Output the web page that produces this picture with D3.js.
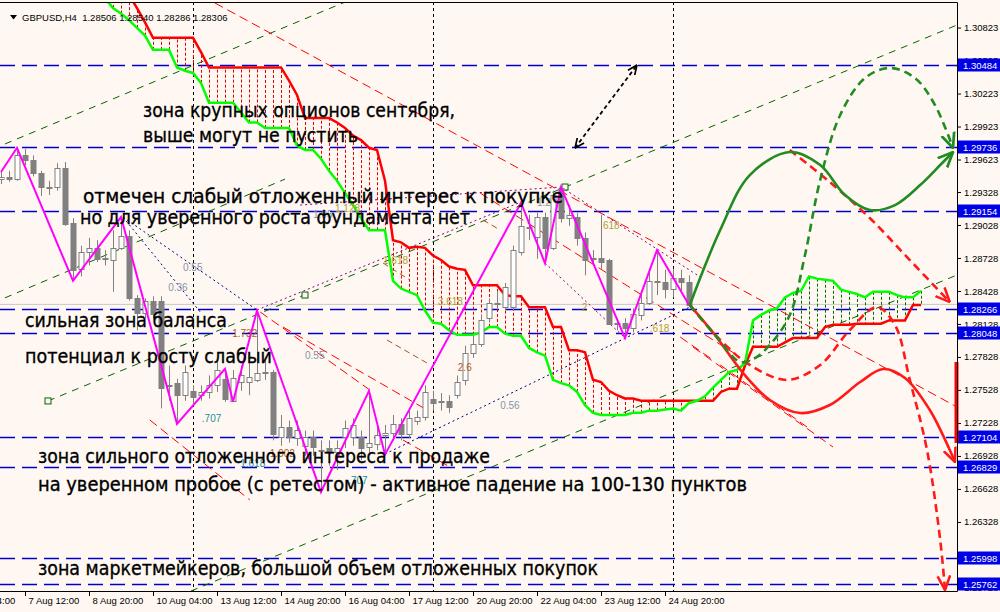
<!DOCTYPE html>
<html><head><meta charset="utf-8">
<script src="https://cdn.jsdelivr.net/npm/d3@7"></script>
<style>
body{margin:0;background:#fff8f2;}
svg{display:block;font-family:"Liberation Sans",Arial,sans-serif;}
</style></head><body>
<svg id="chart" width="1000" height="612"></svg>
<script>
// ---- data (bar index = H4 bar, 0 = first visible) ----
var symbol = "GBPUSD,H4";
var headerValues = [1.28506, 1.28540, 1.28286, 1.28306];
var lastPrice = 1.28306;

var opens  = [1.2945,1.2946,1.2945,1.2966,1.2962,1.2950,1.2937,1.2937,1.2955,1.2905,1.2863,1.2878,1.2882,1.2872,1.2871,1.2882,1.2893,1.2836,1.2823,1.2834,1.2834,1.2757,1.2759,1.2748,1.2752,1.2748,1.2751,1.2757,1.2763,1.2743,1.2760,1.2760,1.2762,1.2769,1.2769,1.2710,1.2719,1.2709,1.2702,1.2710,1.2698,1.2700,1.2696,1.2710,1.2710,1.2710,1.2701,1.2704,1.2712,1.2714,1.2722,1.2713,1.2725,1.2728,1.2745,1.2743,1.2743,1.2748,1.2762,1.2786,1.2795,1.2818,1.2832,1.2828,1.2828,1.2878,1.2901,1.2892,1.2910,1.2882,1.2936,1.2909,1.2910,1.2891,1.2873,1.2873,1.2871,1.2814,1.2814,1.2809,1.2821,1.2832,1.2852,1.2851,1.2845,1.2855,1.2851];
var highs  = [1.2951,1.2952,1.2973,1.2972,1.2966,1.2952,1.2943,1.2959,1.2960,1.2909,1.2884,1.2891,1.2889,1.2880,1.2898,1.2910,1.2898,1.2839,1.2836,1.2838,1.2838,1.2775,1.2763,1.2775,1.2757,1.2757,1.2766,1.2778,1.2772,1.2771,1.2775,1.2780,1.2825,1.2780,1.2771,1.2730,1.2725,1.2725,1.2716,1.2716,1.2707,1.2707,1.2707,1.2725,1.2727,1.2716,1.2752,1.2721,1.2721,1.2730,1.2727,1.2734,1.2734,1.2757,1.2752,1.2750,1.2748,1.2766,1.2793,1.2802,1.2821,1.2836,1.2843,1.2850,1.2884,1.2923,1.2912,1.2914,1.2914,1.2934,1.2937,1.2921,1.2914,1.2896,1.2880,1.2912,1.2872,1.2818,1.2818,1.2827,1.2843,1.2862,1.2880,1.2862,1.2863,1.2862,1.2857];
var lows   = [1.2940,1.2942,1.2943,1.2957,1.2947,1.2929,1.2930,1.2934,1.2902,1.2852,1.2856,1.2866,1.2869,1.2866,1.2842,1.2880,1.2834,1.2807,1.2818,1.2818,1.2736,1.2743,1.2722,1.2743,1.2739,1.2743,1.2745,1.2751,1.2742,1.2742,1.2752,1.2748,1.2760,1.2762,1.2707,1.2702,1.2705,1.2702,1.2693,1.2693,1.2660,1.2684,1.2680,1.2700,1.2702,1.2689,1.2696,1.2698,1.2694,1.2707,1.2707,1.2709,1.2721,1.2725,1.2734,1.2734,1.2732,1.2745,1.2757,1.2782,1.2792,1.2814,1.2827,1.2825,1.2825,1.2875,1.2889,1.2872,1.2868,1.2880,1.2905,1.2902,1.2884,1.2857,1.2866,1.2863,1.2812,1.2807,1.2800,1.2805,1.2816,1.2830,1.2839,1.2836,1.2837,1.2843,1.2829];
var closes = [1.2946,1.2945,1.2966,1.2962,1.2950,1.2937,1.2936,1.2955,1.2904,1.2862,1.2878,1.2882,1.2872,1.2873,1.2882,1.2893,1.2836,1.2823,1.2834,1.2822,1.2755,1.2756,1.2748,1.2769,1.2746,1.2751,1.2757,1.2771,1.2745,1.2764,1.2766,1.2765,1.2768,1.2768,1.2713,1.2719,1.2710,1.2716,1.2710,1.2701,1.2697,1.2696,1.2700,1.2718,1.2721,1.2700,1.2705,1.2712,1.2714,1.2722,1.2713,1.2727,1.2728,1.2751,1.2741,1.2742,1.2737,1.2760,1.2786,1.2795,1.2816,1.2832,1.2831,1.2846,1.2880,1.2902,1.2900,1.2910,1.2882,1.2930,1.2909,1.2912,1.2891,1.2871,1.2872,1.2869,1.2813,1.2813,1.2809,1.2822,1.2832,1.2852,1.2851,1.2845,1.2855,1.2851,1.2830];

// Ichimoku cloud, shifted forward, first value at bar 13
var cloudStart = 13;
var spanB = [1.3134,1.3125,1.3118,1.3112,1.3100,1.3087,1.3073,1.3073,1.3073,1.3073,1.3073,1.3073,1.3060,1.3046,1.3046,1.3046,1.3046,1.3046,1.3046,1.3046,1.3046,1.3046,1.3046,1.3034,1.3021,1.3000,1.3000,1.3000,1.3000,1.2996,1.2991,1.2984,1.2980,1.2973,1.2971,1.2943,1.2889,1.2887,1.2882,1.2883,1.2882,1.2875,1.2871,1.2865,1.2863,1.2862,1.2848,1.2848,1.2848,1.2848,1.2839,1.2838,1.2838,1.2828,1.2828,1.2828,1.2810,1.2810,1.2789,1.2789,1.2787,1.2762,1.2760,1.2752,1.2748,1.2745,1.2745,1.2743,1.2743,1.2743,1.2743,1.2743,1.2743,1.2743,1.2743,1.2743,1.2743,1.2751,1.2754,1.2754,1.2775,1.2792,1.2792,1.2792,1.2792,1.2796,1.2800,1.2800,1.2800,1.2800,1.2810,1.2812,1.2812,1.2812,1.2813,1.2813,1.2813,1.2813,1.2816,1.2816,1.2816,1.2830,1.2830];
var spanA = [1.3109,1.3100,1.3095,1.3089,1.3082,1.3075,1.3062,1.3062,1.3062,1.3046,1.3043,1.3041,1.3032,1.3014,1.3014,1.3014,1.3014,1.3005,1.2996,1.2996,1.2991,1.2991,1.2991,1.2991,1.2975,1.2971,1.2971,1.2963,1.2952,1.2943,1.2932,1.2921,1.2909,1.2898,1.2898,1.2898,1.2852,1.2845,1.2842,1.2839,1.2825,1.2814,1.2813,1.2807,1.2803,1.2803,1.2803,1.2805,1.2810,1.2810,1.2804,1.2802,1.2802,1.2791,1.2787,1.2784,1.2762,1.2759,1.2757,1.2751,1.2739,1.2732,1.2730,1.2730,1.2730,1.2730,1.2732,1.2732,1.2734,1.2734,1.2735,1.2736,1.2734,1.2741,1.2743,1.2747,1.2755,1.2762,1.2769,1.2771,1.2777,1.2816,1.2821,1.2825,1.2827,1.2837,1.2841,1.2843,1.2856,1.2854,1.2853,1.2852,1.2844,1.2842,1.2840,1.2837,1.2842,1.2842,1.2842,1.2839,1.2837,1.2837,1.2843];

var zigBars   = [0, 2, 9, 15, 22, 28, 29, 32, 40, 46, 48, 65, 68, 70, 78, 82, 86];
var zigPrices = [1.2951,1.2973,1.2852,1.2910,1.2722,1.2772,1.2742,1.2825,1.2660,1.2752,1.2694,1.2923,1.2868,1.2937,1.2800,1.2880,1.2830];

var levels = [1.30484, 1.29736, 1.29154, 1.28266, 1.28048, 1.27104, 1.26829, 1.25998, 1.25762];
var priceTicks = [1.30823,1.30523,1.30223,1.29923,1.29623,1.29328,1.29028,1.28728,1.28428,1.28128,1.27828,1.27528,1.27228,1.26928,1.26628,1.26328,1.26028,1.25728];
var timeBars   = [-5, 3, 11, 19, 27, 35, 43, 51, 59, 67, 75, 83];
var timeLabels = ["6 Aug 04:00","7 Aug 12:00","8 Aug 20:00","10 Aug 04:00","13 Aug 12:00","14 Aug 20:00","16 Aug 04:00","17 Aug 12:00","20 Aug 20:00","22 Aug 04:00","23 Aug 12:00","24 Aug 20:00"];
var weekBars = [24, 54, 84];

// trend objects: [[bar, price], [bar, price]]
var greenLines = [[[-1,1.29719],[43.9,1.31082]], [[5.875,1.27428],[119.5,1.30846]], [[23.75,1.25700],[119.5,1.28573]], [[-1,1.28319],[35.5,1.29445]]];
var channelAnchors = [[5.875,1.27428],[38,1.28391],[70.5,1.29373]];
var redLines = [[[26.75,1.31046],[119.5,1.27373]], [[59.9,1.29318],[92.4,1.27827]], [[32.4,1.28237],[46.1,1.27528]], [[35.25,1.28100],[53.25,1.27346]], [[18.6,1.27255],[31.1,1.26528]], [[50.25,1.27073],[56.1,1.26828]], [[84.9,1.28009],[89,1.27800]], [[86.5,1.27918],[104,1.27009]], [[89.9,1.27755],[100.75,1.27191]]];
var brownLines = [[[47.75,1.28682],[51.1,1.28528]], [[48.25,1.27982],[53.25,1.27773]], [[60.25,1.29073],[62.4,1.28982]]];
var navyLines = [[[15.25,1.29100],[32,1.28255]], [[15.25,1.29100],[24.9,1.28237]], [[48,1.26946],[86.1,1.28282]]];
var purpleLines = [[[37.4,1.29209],[70,1.29373]], [[70,1.29373],[87.4,1.28555]], [[68,1.28682],[78,1.28000]], [[32,1.28255],[65,1.29237]]];

var fibLabels = [
  ["0.55", 22.75, 1.28609, "#8595a8"], ["0.36", 20.9, 1.28427, "#8595a8"], ["1.05", 39, 1.29091, "#8595a8"],
  ["1.128", 41.75, 1.29146, "#b0a030"], ["1.618", 47.75, 1.28673, "#b0a030"], ["3.618", 54.6, 1.28300, "#b0a030"],
  ["0.55", 38, 1.27809, "#8595a8"], ["2.6", 57.1, 1.27700, "#b05a20"], ["1.2", 67, 1.29200, "#8595a8"],
  ["618", 75.25, 1.28991, "#b0a030"], ["2", 72.6, 1.28246, "#b0a030"], [".618", 81.1, 1.28055, "#b0a030"],
  ["1.732", 28.9, 1.28009, "#b05a20"], [".707", 25.1, 1.27237, "#2090a0"], ["1.902", 33.6, 1.26918, "#b05a20"],
  ["1.618", 29.9, 1.26828, "#2090a0"], [".707", 43.4, 1.26673, "#2090a0"], ["0.56", 62.4, 1.27355, "#8595a8"]
];

var notes = [
  ["зона крупных опционов сентября,", 17.75, 1.30009],
  ["выше могут не пустить", 17.75, 1.29782],
  ["отмечен слабый отложенный интерес к покупке", 10.25, 1.29228],
  ["но для уверенного роста фундамента нет", 9.875, 1.29037],
  ["сильная зона баланса", 3, 1.28100],
  ["потенциал к росту слабый", 3, 1.27773],
  ["зона сильного отложенного интереса к продаже", 4.625, 1.26864],
  ["на уверенном пробое (с ретестом) - активное падение на 100-130 пунктов", 4.625, 1.26609],
  ["зона маркетмейкеров, большой объем отложенных покупок", 4.625, 1.25846]
];
var noteWidths = [312, 215, 480, 390, 202, 247, 452, 709, 560];

// forecast paths
var greenSolid  = [[86.1,1.28300],[89.9,1.28982],[93.6,1.29482],[98.6,1.29691],[102.4,1.29573],[105.5,1.29300],[108.6,1.29164],[111.75,1.29209],[114.9,1.29391],[117.4,1.29573],[119,1.29691]];
var greenDashed = [[86.1,1.28300],[89.25,1.28028],[92.4,1.27782],[94.25,1.27818],[96.1,1.27937],[98.6,1.28209],[100.5,1.28755],[102.4,1.29437],[104.9,1.30028],[108,1.30364],[111.1,1.30455],[114.25,1.30364],[116.75,1.30118],[119,1.29728]];
var redSolid    = [[86.1,1.28300],[89.25,1.28028],[92.75,1.27682],[96.1,1.27437],[99.9,1.27318],[103.6,1.27391],[107.4,1.27600],[110.25,1.27718],[113,1.27637],[116.1,1.27346],[118.6,1.26982],[119.25,1.26873]];
var redDashed   = [[86.1,1.28300],[89.9,1.27982],[93.6,1.27755],[98.25,1.27619],[102.4,1.27755],[106.1,1.28073],[109.5,1.28282],[111.75,1.28118],[113.6,1.27619],[115.75,1.26982],[117.4,1.26164],[118,1.25709]];
var redDashed2  = [[98.6,1.29709],[103.6,1.29418],[108.6,1.29091],[113.6,1.28709],[118.6,1.28327]];
var rangeArrow  = [[71.75,1.29728],[79.5,1.30482]];
var axisBar = [1.27782, 1.27046];

// ---- drawing ----
var svg = d3.select("#chart");
var x = d3.scaleLinear().domain([0, 119.5]).range([1, 957]);
var y = d3.scaleLinear().domain([1.25700, 1.31028]).range([591, 5]);
var bg = "#fff8f2";

svg.append("rect").attr("width", 1000).attr("height", 612).attr("fill", bg);
var defs = svg.append("defs");
defs.append("clipPath").attr("id", "plot").append("rect")
  .attr("x", 0).attr("y", 2).attr("width", 957).attr("height", 589);

function marker(id, color, size, start){
  defs.append("marker").attr("id", id)
    .attr("viewBox", "0 0 10 10").attr("refX", 9.5).attr("refY", 5)
    .attr("markerUnits", "userSpaceOnUse")
    .attr("markerWidth", size).attr("markerHeight", size)
    .attr("orient", start ? "auto-start-reverse" : "auto")
    .append("path").attr("d", "M0,0.8L9.5,5L0,9.2")
    .attr("fill", "none").attr("stroke", color).attr("stroke-width", 1.7)
    .attr("stroke-dasharray", "none");
}
marker("agreen", "#228b22", 16);
marker("ared", "#ff1a1a", 15);
marker("ablack", "#000", 10, true);

var plot = svg.append("g").attr("clip-path", "url(#plot)");
var line = d3.line().x(function(d){ return x(d[0]); }).y(function(d){ return y(d[1]); });

// week separators
plot.selectAll(".sep").data(weekBars).enter().append("line")
  .attr("x1", function(d){ return Math.round(x(d)) + 0.5; })
  .attr("x2", function(d){ return Math.round(x(d)) + 0.5; })
  .attr("y1", 2).attr("y2", 591)
  .attr("stroke", "#000").attr("stroke-dasharray", "3,3");

// current price line
plot.append("line").attr("x1", 0).attr("x2", 957)
  .attr("y1", y(lastPrice)).attr("y2", y(lastPrice))
  .attr("stroke", "#c8c8c8");

// horizontal levels
plot.selectAll(".lvl").data(levels).enter().append("line")
  .attr("x1", 0).attr("x2", 957)
  .attr("y1", function(d){ return Math.round(y(d)) + 0.5; })
  .attr("y2", function(d){ return Math.round(y(d)) + 0.5; })
  .attr("stroke", "#0000cd").attr("stroke-width", 1.3).attr("stroke-dasharray", "15,7");

// cloud hatch
var cloud = spanA.map(function(a, i){ return [cloudStart + i, a, spanB[i]]; });
plot.selectAll(".hatch").data(cloud).enter().append("line")
  .attr("x1", function(d){ return Math.round(x(d[0])) + 0.5; })
  .attr("x2", function(d){ return Math.round(x(d[0])) + 0.5; })
  .attr("y1", function(d){ return y(d[1]); })
  .attr("y2", function(d){ return y(d[2]); })
  .attr("stroke", function(d){ return d[2] >= d[1] ? "#e00000" : "#007000"; })
  .attr("stroke-dasharray", "3,2");

// trend objects
function drawSet(set, color, dash, width){
  plot.append("g").selectAll("path").data(set).enter().append("path")
    .attr("d", line).attr("fill", "none")
    .attr("stroke", color).attr("stroke-width", width).attr("stroke-dasharray", dash);
}
drawSet(greenLines, "#006400", "7,6", 1);
drawSet(redLines, "#ff0000", "9,5", 1);
drawSet(brownLines, "#a0522d", "6,4", 1);
drawSet(navyLines, "#000080", "2,3", 1);
drawSet(purpleLines, "#800080", "2,3", 1);

// anchor squares of the channel
plot.selectAll(".anch").data(channelAnchors).enter().append("rect")
  .attr("x", function(d){ return x(d[0]) - 3; }).attr("y", function(d){ return y(d[1]) - 3; })
  .attr("width", 6).attr("height", 6).attr("fill", bg).attr("stroke", "#006400");

// cloud spans
plot.append("path").datum(spanB.map(function(v, i){ return [cloudStart + i, v]; }))
  .attr("d", line).attr("fill", "none").attr("stroke", "#ff0000").attr("stroke-width", 2.5);
plot.append("path").datum(spanA.map(function(v, i){ return [cloudStart + i, v]; }))
  .attr("d", line).attr("fill", "none").attr("stroke", "#00ff00").attr("stroke-width", 2.5);

// candles
var bars = opens.map(function(o, i){ return {i: i, o: o, h: highs[i], l: lows[i], c: closes[i]}; });
var cg = plot.append("g");
cg.selectAll(".wick").data(bars).enter().append("line")
  .attr("x1", function(d){ return Math.round(x(d.i)) + 0.5; })
  .attr("x2", function(d){ return Math.round(x(d.i)) + 0.5; })
  .attr("y1", function(d){ return y(d.h); }).attr("y2", function(d){ return y(d.l); })
  .attr("stroke", "#808080");
cg.selectAll(".body").data(bars).enter().append("rect")
  .attr("x", function(d){ return Math.round(x(d.i)) - 2; })
  .attr("width", 5)
  .attr("y", function(d){ return Math.round(y(Math.max(d.o, d.c))) + 0.5; })
  .attr("height", function(d){ return Math.max(0.5, Math.abs(Math.round(y(d.o)) - Math.round(y(d.c)))); })
  .attr("fill", function(d){ return d.c > d.o ? "#ffffff" : "#808080"; })
  .attr("stroke", "#808080");

// zigzag
plot.append("path").datum(zigBars.map(function(b, i){ return [b, zigPrices[i]]; }))
  .attr("d", line).attr("fill", "none").attr("stroke", "#ff00ff").attr("stroke-width", 2);

// fib labels
plot.selectAll(".fib").data(fibLabels).enter().append("text")
  .attr("x", function(d){ return x(d[1]); }).attr("y", function(d){ return y(d[2]); })
  .attr("fill", function(d){ return d[3]; })
  .style("font-size", "10px").text(function(d){ return d[0]; });

// forecast curves
var curve = d3.line().curve(d3.curveCatmullRom.alpha(0.5))
  .x(function(d){ return x(d[0]); }).y(function(d){ return y(d[1]); });
function drawCurve(pts, color, dash, mk){
  plot.append("path").datum(pts).attr("d", curve).attr("fill", "none")
    .attr("stroke", color).attr("stroke-width", 2.6).attr("stroke-dasharray", dash)
    .attr("marker-end", "url(#" + mk + ")");
}
drawCurve(redDashed2, "#ff1a1a", "8,5", "ared");
drawCurve(redSolid, "#ff1a1a", null, "ared");
drawCurve(redDashed, "#ff1a1a", "8,5", "ared");
drawCurve(greenDashed, "#228b22", "8,5", "agreen");
drawCurve(greenSolid, "#228b22", null, "agreen");

plot.append("path").datum(rangeArrow).attr("d", line).attr("fill", "none")
  .attr("stroke", "#000").attr("stroke-width", 1.8).attr("stroke-dasharray", "4,3")
  .attr("marker-start", "url(#ablack)").attr("marker-end", "url(#ablack)");

// notes
svg.selectAll(".note").data(notes).enter().append("text")
  .attr("x", function(d){ return x(d[1]); }).attr("y", function(d){ return y(d[2]); })
  .attr("textLength", function(d, i){ return noteWidths[i]; })
  .attr("lengthAdjust", "spacingAndGlyphs")
  .style("font-family", "'DejaVu Sans', sans-serif").style("font-size", "19px")
  .attr("fill", "#000").attr("stroke", "#000").attr("stroke-width", 0.35)
  .text(function(d){ return d[0]; });

// header
svg.append("path").attr("d", "M10,15L17,15L13.5,19.5Z").attr("fill", "#000");
svg.append("text").attr("x", 22).attr("y", 21).style("font-size", "9.5px").attr("fill", "#000")
  .attr("xml:space", "preserve")
  .text(symbol + "  " + headerValues.map(d3.format(".5f")).join(" "));

// axes
var gy = svg.append("g").attr("transform", "translate(957,0)")
  .call(d3.axisRight(y).tickValues(priceTicks).tickFormat(d3.format(".5f")).tickSize(4));
gy.select(".domain").remove();
gy.selectAll("text").style("font-size", "9.5px").style("font-family", "'Liberation Sans', Arial");

var gx = svg.append("g").attr("transform", "translate(0,591)")
  .call(d3.axisBottom(x).tickValues(timeBars).tickFormat(function(d, i){ return timeLabels[i]; }).tickSize(5));
gx.select(".domain").remove();
gx.selectAll("text").attr("text-anchor", "start").attr("x", 3).attr("y", 13).attr("dy", 0)
  .style("font-size", "9.5px").style("font-family", "'Liberation Sans', Arial");

// level labels
var lg = svg.selectAll(".lab").data(levels).enter().append("g")
  .attr("transform", function(d){ return "translate(958," + Math.round(y(d)) + ")"; });
lg.append("rect").attr("x", 0).attr("y", -6.5).attr("width", 42).attr("height", 13).attr("fill", "#0000e6");
lg.append("text").attr("x", 5).attr("y", 3.5).attr("fill", "#fff")
  .style("font-size", "9.5px").text(function(d){ return d3.format(".5f")(d); });

// red marker on the price scale
svg.append("rect").attr("x", 954.5).attr("width", 4)
  .attr("y", y(axisBar[0])).attr("height", y(axisBar[1]) - y(axisBar[0])).attr("fill", "#ff0000");

// frame
svg.append("path").attr("d", "M0,2.5H957.5V591.5H0").attr("fill", "none").attr("stroke", "#000");
</script>
</body></html>
